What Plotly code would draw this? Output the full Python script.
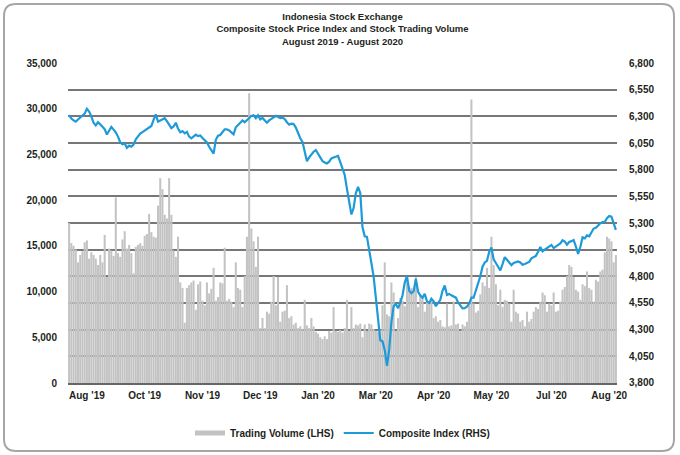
import plotly.graph_objects as go

title_lines = ["Indonesia Stock Exchange",
               "Composite Stock Price Index and Stock Trading Volume",
               "August 2019 - August 2020"]

tick_pos = [8, 34, 60, 86, 112, 138, 164, 190, 217, 243]
tick_text = ["Aug '19", "Oct '19", "Nov '19", "Dec '19", "Jan '20", "Mar '20",
             "Apr '20", "May '20", "Jul '20", "Aug '20"]

volume = [
    17500, 15300, 15000, 14600, 13200, 14000, 14400, 15400, 15600, 13600,
    14300, 14000, 13600, 12900, 14000, 13200, 16200, 11600, 14700, 14500,
    13900, 20300, 14200, 13800, 15700, 16600, 14700, 15100, 14200, 12000,
    14900, 15100, 15300, 15000, 16100, 16300, 18500, 16500, 16000, 15900,
    19400, 22400, 21200, 18400, 18000, 22400, 18400, 14500, 13800, 16000,
    11000, 10400, 6600, 10400, 10700, 11000, 11200, 8000, 10800, 11100,
    9000, 8500, 11000, 9800, 10300, 12600, 9000, 9400, 11000, 10900,
    14800, 9000, 9200, 8900, 8300, 13200, 10400, 10200, 8300, 11700,
    16000, 31700, 16900, 15500, 12700, 16000, 6000, 7100, 6000, 7800,
    7600, 8900, 11700, 8500, 11600, 6700, 7800, 7900, 10700, 7100,
    7300, 6400, 6600, 6000, 6200, 5900, 9100, 6300, 6000, 7100,
    6200, 5600, 5400, 5000, 4800, 5100, 4800, 5700, 5500, 8300,
    5700, 5600, 5800, 5500, 6000, 9100, 5700, 8300, 6000, 6400,
    6300, 6500, 5000, 6400, 5700, 6500, 6400, 5900, 5700, 5600,
    5800, 8500, 13200, 7500, 7300, 11000, 9900, 5700, 7100, 9300,
    9000, 8400, 11700, 10600, 10400, 10200, 11600, 8300, 9700, 9500,
    7800, 8900, 8700, 9000, 7100, 7300, 6700, 6900, 6200, 6100,
    8700, 6200, 6300, 8900, 6400, 6500, 5700, 6400, 6200, 6700,
    8500, 31000, 8700, 7700, 7900, 9700, 11000, 10600, 12600, 10400,
    16000, 12900, 10800, 8500, 10200, 8300, 9100, 9000, 8700, 6700,
    10200, 7800, 7600, 6700, 6900, 6200, 7800, 6700, 7000, 7800,
    8300, 8100, 8900, 9900, 9600, 7800, 8700, 8500, 9900, 7800,
    7900, 8900, 10200, 10500, 11700, 12900, 12700, 11600, 10200, 10000,
    9100, 10800, 10600, 12200, 10400, 10200, 8900, 11300, 11100, 12200,
    12400, 14300, 16000, 15800, 15500, 13200, 14000,
]

composite = [
    6312, 6280, 6262, 6250, 6270, 6290, 6303, 6325, 6370, 6345,
    6300, 6240, 6215, 6245, 6225, 6205, 6180, 6130, 6165, 6200,
    6175, 6150, 6110, 6057, 6038, 6047, 6005, 6025, 6016, 6035,
    6085, 6115, 6138, 6152, 6165, 6178, 6192, 6210, 6266, 6319,
    6250, 6262, 6275, 6282, 6255, 6215, 6190, 6205, 6240, 6185,
    6150, 6162, 6141, 6155, 6110, 6094, 6109, 6128, 6115, 6120,
    6098, 6080, 6055, 6015, 5985, 5950, 6080, 6118, 6125, 6155,
    6178, 6178, 6168, 6150, 6131, 6198, 6218, 6235, 6262, 6245,
    6266, 6290, 6303, 6310, 6283, 6310, 6272, 6285, 6262, 6240,
    6262, 6280, 6290, 6305, 6296, 6284, 6288, 6275, 6245, 6222,
    6232, 6228, 6195, 6140, 6095, 6060, 5970, 5880, 5915, 5945,
    5968, 5984, 5945, 5905, 5880, 5868, 5859, 5875, 5905, 5915,
    5925, 5930, 5870, 5800, 5750, 5620, 5480, 5380, 5440, 5580,
    5638, 5580, 5260, 5175, 5170, 5040, 4905, 4800, 4600, 4390,
    4200, 4190, 4110, 3960, 4110, 4370, 4520, 4540, 4500, 4555,
    4620, 4740, 4805, 4665, 4642, 4660, 4775, 4655, 4620, 4600,
    4635, 4565, 4550, 4590, 4565, 4520, 4545, 4580, 4665, 4715,
    4625, 4635, 4622, 4612, 4600, 4555, 4525, 4500, 4502, 4516,
    4545, 4600, 4600, 4660, 4730, 4800, 4890, 4930, 4945, 5030,
    5070, 4960, 4925, 4885, 4855, 4915, 4980, 4955, 4930, 4905,
    4925, 4930, 4940, 4930, 4908, 4915, 4922, 4935, 4969, 4983,
    4992, 5030, 5075, 5035, 5052, 5068, 5080, 5094, 5065, 5077,
    5094, 5108, 5138, 5125, 5096, 5122, 5130, 5140, 5080, 5010,
    5075, 5165, 5156, 5185, 5175, 5219, 5248, 5255, 5281, 5297,
    5308, 5310, 5345, 5365, 5360, 5290, 5235,
]

days = list(range(len(volume)))

BAR_COLOR = "#c3c3c3"
LINE_COLOR = "#1e9ad8"
TEXT_COLOR = "#231f20"
GRID_COLOR = "#777777"

fig = go.Figure()
fig.add_trace(go.Bar(x=days, y=volume, marker=dict(color=BAR_COLOR, line=dict(width=0)),
                     name="Trading Volume (LHS)", showlegend=False, yaxis="y"))
fig.add_trace(go.Scatter(x=days, y=composite, mode="lines",
                         line=dict(color=LINE_COLOR, width=2.2),
                         name="Composite Index (RHS)", showlegend=False, yaxis="y2"))
# legend entries
fig.add_trace(go.Scatter(x=[None], y=[None], mode="lines",
                         line=dict(color=BAR_COLOR, width=5),
                         name="Trading Volume (LHS)", yaxis="y"))
fig.add_trace(go.Scatter(x=[None], y=[None], mode="lines",
                         line=dict(color=LINE_COLOR, width=2),
                         name="Composite Index (RHS)", yaxis="y2"))

W, H = 680, 455
L, R, T, B = 68, 63, 63, 72
pw, ph = W - L - R, H - T - B

def px2paper(px, py):
    return (px - L) / pw, (H - B - py) / ph

# rounded outer frame
x0, y0, x1, y1, rr = 4, 4, 674, 451, 12
def P(px, py):
    a, b = px2paper(px, py)
    return f"{a:.5f},{b:.5f}"
path = (f"M {P(x0+rr, y0)} L {P(x1-rr, y0)} Q {P(x1, y0)} {P(x1, y0+rr)} "
        f"L {P(x1, y1-rr)} Q {P(x1, y1)} {P(x1-rr, y1)} "
        f"L {P(x0+rr, y1)} Q {P(x0, y1)} {P(x0, y1-rr)} "
        f"L {P(x0, y0+rr)} Q {P(x0, y0)} {P(x0+rr, y0)} Z")
fig.add_shape(type="path", path=path, xref="paper", yref="paper",
              line=dict(color="#a6a6a6", width=2), fillcolor="rgba(0,0,0,0)")

tick_font = dict(family="Liberation Sans, Arial, sans-serif", size=10, color=TEXT_COLOR, weight="bold")

fig.update_layout(
    width=W, height=H,
    margin=dict(l=L, r=R, t=T, b=B, pad=0, autoexpand=False),
    paper_bgcolor="white", plot_bgcolor="white",
    bargap=0.08,
    title=dict(text="<br>".join(title_lines), x=0.5, xref="paper", xanchor="center",
               y=1 - 20 / H, yanchor="top",
               font=dict(family="Liberation Sans Narrow, Arial Narrow, Liberation Sans, sans-serif",
                         size=9.5, color=TEXT_COLOR, weight="bold")),
    xaxis=dict(range=[-0.5, len(volume) - 0.5], tickvals=tick_pos, ticktext=tick_text,
               showgrid=False, zeroline=False, showline=True, linecolor="#666666", linewidth=2,
               ticks="", tickfont=tick_font, ticklabelstandoff=2, automargin=False),
    yaxis=dict(range=[0, 35000], dtick=5000, tick0=0, tickformat=",", showgrid=False, zeroline=False,
               ticks="", tickfont=tick_font, ticklabelstandoff=10, showline=False, automargin=False),
    yaxis2=dict(range=[3799.9, 6800.1], dtick=250, tick0=3800, tickformat=",", overlaying="y", side="right",
                showgrid=True, gridcolor=GRID_COLOR, gridwidth=1.5, zeroline=False,
                ticks="", tickfont=tick_font, ticklabelstandoff=11, showline=False, automargin=False),
    legend=dict(orientation="h", x=0.5, xanchor="center", y=(H - B - 433) / ph, yanchor="middle",
                xref="paper", font=dict(family="Liberation Sans, Arial, sans-serif", size=10,
                                        color=TEXT_COLOR, weight="bold"),
                itemwidth=30, tracegroupgap=0, bgcolor="rgba(0,0,0,0)"),
    showlegend=True,
)

fig.write_html("out.html", config={"displayModeBar": False},
               post_script="document.body.style.margin='0';document.body.style.overflow='hidden';")
